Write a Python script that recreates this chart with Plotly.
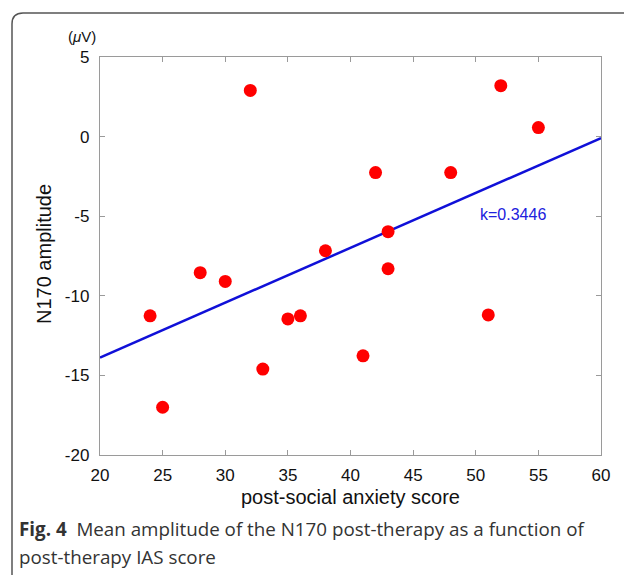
import plotly.graph_objects as go

# Data
anxiety_score = [24, 25, 28, 30, 32, 33, 35, 36, 38, 41, 42, 43, 43, 48, 51, 52, 55]
n170_amplitude = [-11.26, -17.0, -8.55, -9.1, 2.9, -14.6, -11.45, -11.26, -7.17, -13.77,
                  -2.26, -5.97, -8.3, -2.26, -11.2, 3.2, 0.57]
fit_slope = 0.3446
fit_intercept = -20.77
fit_x = [20, 60]
fit_y = [fit_slope * v + fit_intercept for v in fit_x]
x_ticks = [20, 25, 30, 35, 40, 45, 50, 55, 60]
x_ticktext = ["20", "25", "30", "35", "40", "45", "50", "55", "60"]
y_ticks = [5, 0, -5, -10, -15, -20]
y_ticktext = ["5", "0", "-5", "-10", "-15", "-20"]

W, H = 624, 575
L, R, T, B = 100, 23, 57, 120
PW, PH = W - L - R, H - T - B

def px_x(p):
    return (p - L) / PW

def px_y(p):
    return (H - B - p) / PH

fig = go.Figure()
fig.add_trace(go.Scatter(x=fit_x, y=fit_y, mode="lines",
                         line=dict(color="#1010d8", width=2.5), hoverinfo="skip"))
fig.add_trace(go.Scatter(x=anxiety_score, y=n170_amplitude, mode="markers",
                         marker=dict(color="#ff0000", size=13, line=dict(width=0))))

axis_common = dict(showgrid=False, zeroline=False, showline=True, linecolor="#9a9a9a",
                   linewidth=1.3, mirror="ticks", ticks="inside", ticklen=5,
                   tickcolor="#9a9a9a", tickwidth=1,
                   tickfont=dict(family="Liberation Sans, Arial", size=17, color="#111"))
fig.update_xaxes(range=[20, 60], tickvals=x_ticks, ticktext=x_ticktext,
                 ticklabelstandoff=4, **axis_common)
fig.update_yaxes(range=[-20, 5], tickvals=y_ticks, ticktext=y_ticktext,
                 ticklabelstandoff=6, **axis_common)

ann = []
ann.append(dict(x=53, y=-4.9, xref="x", yref="y", text="k=0.3446", showarrow=False,
                xanchor="center", yanchor="middle",
                font=dict(family="Liberation Sans, Arial", size=16, color="#2020dd")))
ann.append(dict(x=px_x(82), y=px_y(36), xref="paper", yref="paper", text="(<i>μ</i>V)",
                xanchor="center", yanchor="middle",
                showarrow=False, font=dict(family="Liberation Sans, Arial", size=15, color="#111")))
ann.append(dict(x=px_x(44), y=px_y(254), xref="paper", yref="paper", text="N170 amplitude",
                textangle=-90, showarrow=False, xanchor="center", yanchor="middle",
                font=dict(family="Liberation Sans, Arial", size=20, color="#111")))
ann.append(dict(x=0.5, y=px_y(497), xref="paper", yref="paper",
                text="post-social anxiety score", showarrow=False,
                xanchor="center", yanchor="middle",
                font=dict(family="Liberation Sans, Arial", size=20, color="#111")))
ann.append(dict(x=px_x(17), y=px_y(529), xref="paper", yref="paper", xanchor="left",
                yanchor="middle",
                text="<b>Fig. 4</b>  Mean amplitude of the N170 post-therapy as a function of",
                showarrow=False, font=dict(family="Open Sans", size=18.8, color="#333")))
ann.append(dict(x=px_x(17), y=px_y(557), xref="paper", yref="paper", xanchor="left",
                yanchor="middle",
                text="post-therapy IAS score",
                showarrow=False, font=dict(family="Open Sans", size=18.8, color="#333")))

bx = px_x(12)
by = px_y(13)
r_u = 11 / PW
r_v = 11 / PH
path = (f"M {bx},{px_y(585)} L {bx},{by - r_v} Q {bx},{by} {bx + r_u},{by} "
        f"L {px_x(640)},{by}")
shapes = [dict(type="path", xref="paper", yref="paper", path=path,
               line=dict(color="#555", width=1.5))]

fig.update_layout(width=W, height=H, margin=dict(l=L, r=R, t=T, b=B),
                  plot_bgcolor="white", paper_bgcolor="white", showlegend=False,
                  annotations=ann, shapes=shapes)
fig.write_html("out.html", config={"displayModeBar": False},
               post_script="document.body.style.margin='0';document.body.style.padding='0';")
